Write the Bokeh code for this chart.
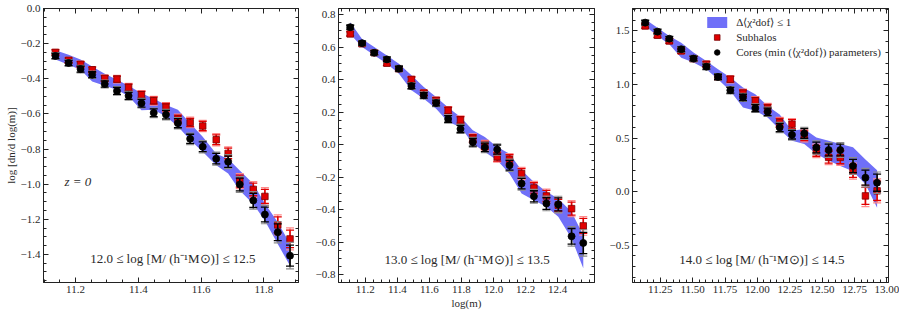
import numpy as np
from bokeh.plotting import figure
from bokeh.layouts import row
from bokeh.models import (ColumnDataSource, Range1d, FixedTicker, LinearAxis, Label,
                          Legend, LegendItem, CustomJSTickFormatter)
from bokeh.embed import file_html
from bokeh.resources import INLINE

# ---------------- data ----------------
# Panel 1: 12.0 <= log M <= 12.5
p1_x = [11.136, 11.178, 11.216, 11.253, 11.293, 11.332, 11.369, 11.41, 11.449, 11.488,
        11.526, 11.565, 11.605, 11.648, 11.686, 11.723, 11.766, 11.803, 11.844, 11.883]
p1_cores = [-0.27, -0.31, -0.345, -0.377, -0.43, -0.469, -0.497, -0.539, -0.594, -0.604,
            -0.653, -0.742, -0.787, -0.855, -0.872, -1.002, -1.093, -1.173, -1.274, -1.407]
p1_cores_err = [0.015, 0.015, 0.017, 0.017, 0.018, 0.02, 0.02, 0.022, 0.022, 0.024,
                0.026, 0.026, 0.028, 0.03, 0.032, 0.036, 0.04, 0.042, 0.048, 0.06]
p1_sub = [-0.25, -0.295, -0.318, -0.349, -0.398, -0.402, -0.449, -0.491, -0.525, -0.562,
          -0.629, -0.649, -0.669, -0.747, -0.825, -0.983, -1.03, -1.07, -1.232, -1.312]
p1_sub_err = [0.014, 0.014, 0.015, 0.015, 0.016, 0.017, 0.018, 0.019, 0.02, 0.021,
              0.022, 0.024, 0.026, 0.028, 0.03, 0.034, 0.036, 0.04, 0.046, 0.05]
p1_band_hi = [-0.238, -0.263, -0.291, -0.33, -0.371, -0.406, -0.44, -0.482, -0.514, -0.549,
              -0.577, -0.653, -0.73, -0.827, -0.855, -0.922, -0.998, -1.11, -1.217, -1.34]
p1_band_lo = [-0.29, -0.32, -0.349, -0.415, -0.44, -0.463, -0.50, -0.58, -0.577, -0.615,
              -0.672, -0.749, -0.815, -0.893, -0.94, -1.036, -1.113, -1.208, -1.341, -1.465]

# Panel 2: 13.0 <= log M <= 13.5
p2_x = [11.106, 11.18, 11.256, 11.335, 11.41, 11.488, 11.565, 11.642, 11.717, 11.794,
        11.871, 11.946, 12.023, 12.10, 12.175, 12.252, 12.33, 12.404, 12.487, 12.56]
p2_cores = [0.722, 0.624, 0.565, 0.524, 0.467, 0.36, 0.303, 0.256, 0.158, 0.097,
            0.015, -0.017, -0.03, -0.126, -0.239, -0.317, -0.361, -0.367, -0.563, -0.604]
p2_cores_err = [0.012, 0.012, 0.013, 0.014, 0.015, 0.016, 0.017, 0.018, 0.02, 0.022,
                0.024, 0.026, 0.028, 0.03, 0.032, 0.034, 0.036, 0.04, 0.048, 0.065]
p2_sub = [0.681, 0.62, 0.565, 0.501, 0.467, 0.401, 0.317, 0.272, 0.211, 0.152,
          0.039, -0.004, -0.075, -0.09, -0.177, -0.266, -0.315, -0.372, -0.393, -0.499]
p2_sub_err = [0.012, 0.012, 0.013, 0.013, 0.014, 0.015, 0.016, 0.017, 0.019, 0.02,
              0.022, 0.024, 0.026, 0.028, 0.03, 0.032, 0.034, 0.036, 0.04, 0.046]
p2_band_hi = [0.753, 0.65, 0.60, 0.548, 0.497, 0.426, 0.354, 0.293, 0.228, 0.17,
              0.088, 0.047, -0.014, -0.055, -0.157, -0.229, -0.29, -0.331, -0.413, -0.556]
p2_band_lo = [0.68, 0.60, 0.55, 0.497, 0.436, 0.334, 0.283, 0.221, 0.14, 0.109,
              0.007, -0.045, -0.096, -0.178, -0.30, -0.341, -0.382, -0.443, -0.576, -0.76]

# Panel 3: 14.0 <= log M <= 14.5
p3_x = [11.134, 11.229, 11.32, 11.412, 11.507, 11.606, 11.696, 11.791, 11.889, 11.984,
        12.079, 12.172, 12.267, 12.362, 12.455, 12.55, 12.64, 12.738, 12.834, 12.924]
p3_cores = [1.578, 1.494, 1.428, 1.329, 1.242, 1.167, 1.071, 0.947, 0.879, 0.78,
            0.745, 0.599, 0.531, 0.543, 0.412, 0.388, 0.388, 0.239, 0.13, 0.083]
p3_cores_err = [0.02, 0.02, 0.02, 0.022, 0.022, 0.024, 0.025, 0.027, 0.03, 0.032,
                0.035, 0.038, 0.04, 0.045, 0.05, 0.055, 0.055, 0.062, 0.07, 0.08]
p3_sub = [1.547, 1.46, 1.407, 1.314, 1.242, 1.19, 1.071, 1.05, 0.919, 0.848,
          0.78, 0.645, 0.63, 0.521, 0.38, 0.32, 0.32, 0.192, -0.04, 0.007]
p3_sub_err = [0.02, 0.02, 0.02, 0.022, 0.022, 0.024, 0.025, 0.027, 0.03, 0.032,
              0.035, 0.038, 0.042, 0.045, 0.05, 0.055, 0.06, 0.06, 0.08, 0.09]
p3_band_hi = [1.609, 1.531, 1.453, 1.391, 1.298, 1.22, 1.143, 1.065, 0.972, 0.91,
              0.80, 0.72, 0.568, 0.584, 0.506, 0.475, 0.444, 0.413, 0.30, 0.20]
p3_band_lo = [1.547, 1.453, 1.376, 1.251, 1.205, 1.143, 1.05, 0.94, 0.785, 0.754,
              0.692, 0.58, 0.475, 0.444, 0.351, 0.29, 0.24, 0.19, 0.068, -0.15]

# ticks
p1_xticks = [11.2, 11.4, 11.6, 11.8]
p1_yticks = [-1.4, -1.2, -1.0, -0.8, -0.6, -0.4, -0.2, 0.0]
p2_xticks = [11.2, 11.4, 11.6, 11.8, 12.0, 12.2, 12.4]
p2_yticks = [-0.8, -0.6, -0.4, -0.2, 0.0, 0.2, 0.4, 0.6, 0.8]
p3_xticks = [11.25, 11.5, 11.75, 12.0, 12.25, 12.5, 12.75, 13.0]
p3_yticks = [-0.5, 0.0, 0.5, 1.0, 1.5]

# texts
panel_titles = ["12.0 ≤ log [M/ (h⁻¹M⊙)] ≤ 12.5",
                "13.0 ≤ log [M/ (h⁻¹M⊙)] ≤ 13.5",
                "14.0 ≤ log [M/ (h⁻¹M⊙)] ≤ 14.5"]
legend_labels = ["Δ⟨χ²dof⟩ ≤ 1", "Subhalos", "Cores (min (⟨χ²dof⟩) parameters)"]

# ---------------- style ----------------
FONT = "Liberation Serif"
BAND = "#6f6ff8"
RED = "#e00000"
RED_EDGE = "#7a0000"
PINK = "#ff8a8a"
GREY = "#8a8a8a"
TXT = "#2a2a2a"
LINE = "#222222"
H = 314


def fmt(dec):
    return CustomJSTickFormatter(code=f"""
        const s = Math.abs(tick).toFixed({dec});
        return (tick < -1e-9 ? '\\u2212' : '') + s;""")


def style_axis(ax):
    ax.major_tick_in = 5
    ax.major_tick_out = 0
    ax.minor_tick_in = 3
    ax.minor_tick_out = 0
    ax.axis_line_color = LINE
    ax.major_tick_line_color = LINE
    ax.minor_tick_line_color = LINE
    ax.major_label_text_font = FONT
    ax.major_label_text_color = TXT
    ax.major_label_text_font_size = "11px"
    ax.major_label_standoff = 3
    ax.axis_label_text_font = FONT
    ax.axis_label_text_color = TXT
    ax.axis_label_text_font_style = "normal"
    ax.axis_label_text_font_size = "11px"
    ax.axis_label_standoff = 1


def make_panel(width, bl, br, xr, yr, xt, xstep, yt, ystep, xdec, ydec):
    p = figure(width=width, height=H, x_range=Range1d(*xr), y_range=Range1d(*yr),
               output_backend="svg", toolbar_location=None,
               min_border_left=bl, min_border_right=br, min_border_top=8, min_border_bottom=32)
    p.xgrid.visible = False
    p.ygrid.visible = False
    p.outline_line_color = LINE
    p.outline_line_width = 1
    p.background_fill_color = "white"
    p.border_fill_color = "white"
    xminor = list(np.round(np.arange(xr[0] - xr[0] % xstep, xr[1] + xstep, xstep), 4))
    yminor = list(np.round(np.arange(yr[0] - yr[0] % ystep, yr[1] + ystep, ystep), 4))
    xtk = FixedTicker(ticks=xt, minor_ticks=xminor)
    ytk = FixedTicker(ticks=yt, minor_ticks=yminor)
    xa = p.below[0]
    ya = p.left[0]
    xa.ticker = xtk
    xa.formatter = fmt(xdec)
    ya.ticker = ytk
    ya.formatter = fmt(ydec)
    style_axis(xa)
    style_axis(ya)
    for tk, side in ((xtk, "above"), (ytk, "right")):
        ax = LinearAxis(ticker=tk, formatter=CustomJSTickFormatter(code="return '';"))
        style_axis(ax)
        ax.major_label_standoff = 0
        p.add_layout(ax, side)
    return p, xa, ya


def draw_errbars(p, x, y, e, color, light, marker, fill, edge, size):
    y = np.asarray(y, dtype=float)
    e = np.asarray(e, dtype=float)
    src = ColumnDataSource(dict(x=x, y=y, lo=y - e, hi=y + e, lo2=y - 1.25 * e, hi2=y + 1.25 * e))
    p.segment(x0="x", y0="lo2", x1="x", y1="hi2", source=src, line_color=light, line_width=1.4)
    p.scatter(x="x", y="lo2", source=src, marker="dash", size=8, line_color=light, line_width=1.2)
    p.scatter(x="x", y="hi2", source=src, marker="dash", size=8, line_color=light, line_width=1.2)
    p.segment(x0="x", y0="lo", x1="x", y1="hi", source=src, line_color=color, line_width=1.6)
    p.scatter(x="x", y="lo", source=src, marker="dash", size=8, line_color=color, line_width=1.3)
    p.scatter(x="x", y="hi", source=src, marker="dash", size=8, line_color=color, line_width=1.3)
    r = p.scatter(x="x", y="y", source=src, marker=marker, size=size, fill_color=fill,
                  line_color=edge, line_width=0.8)
    return r


def fill_panel(p, x, cores, cerr, sub, serr, bhi, blo):
    band = p.varea(x=x, y1=blo, y2=bhi, fill_color=BAND, fill_alpha=1.0)
    rs = draw_errbars(p, x, sub, serr, RED, PINK, "square", RED, RED_EDGE, 6.5)
    rc = draw_errbars(p, x, cores, cerr, "#000000", GREY, "circle", "#000000", "#000000", 7)
    return band, rs, rc


p1, x1a, y1a = make_panel(303, 43, 5, (11.098, 11.91), (-1.56, 0.0), p1_xticks, 0.05, p1_yticks, 0.05, 1, 1)
p2, x2a, y2a = make_panel(296, 35, 5, (11.033, 12.63), (-0.847, 0.837), p2_xticks, 0.05, p2_yticks, 0.05, 1, 1)
p3, x3a, y3a = make_panel(300, 33, 11, (11.036, 13.012), (-0.849, 1.71), p3_xticks, 0.05, p3_yticks, 0.1, 2, 1)

y1a.axis_label = "log [dn/d log(m)]"
x2a.axis_label = "log(m)"

fill_panel(p1, p1_x, p1_cores, p1_cores_err, p1_sub, p1_sub_err, p1_band_hi, p1_band_lo)
fill_panel(p2, p2_x, p2_cores, p2_cores_err, p2_sub, p2_sub_err, p2_band_hi, p2_band_lo)
band3, rs3, rc3 = fill_panel(p3, p3_x, p3_cores, p3_cores_err, p3_sub, p3_sub_err, p3_band_hi, p3_band_lo)

for i, (p, (lx, ly)) in enumerate(zip((p1, p2, p3), ((11.51, -1.423), (11.835, -0.704), (12.035, -0.631)))):
    p.add_layout(Label(x=lx, y=ly, text=panel_titles[i], text_align="center",
                       text_baseline="middle", text_font=FONT, text_font_size="13px",
                       text_color=TXT))

p1.add_layout(Label(x=11.165, y=-0.985, text="z = 0", text_align="left", text_baseline="middle",
                    text_font=FONT, text_font_size="13px", text_font_style="italic", text_color=TXT))

legend = Legend(items=[LegendItem(label=legend_labels[0], renderers=[band3]),
                       LegendItem(label=legend_labels[1], renderers=[rs3]),
                       LegendItem(label=legend_labels[2], renderers=[rc3])],
                location="top_right")
legend.background_fill_alpha = 0
legend.border_line_color = None
legend.label_text_font = FONT
legend.label_text_font_size = "11px"
legend.label_text_color = TXT
legend.glyph_width = 25
legend.glyph_height = 14
legend.label_height = 14
legend.spacing = 1
legend.padding = 3
legend.margin = 7
legend.label_standoff = 7
p3.add_layout(legend)

layout = row(p1, p2, p3)
open("out.html", "w").write(file_html(layout, INLINE))
